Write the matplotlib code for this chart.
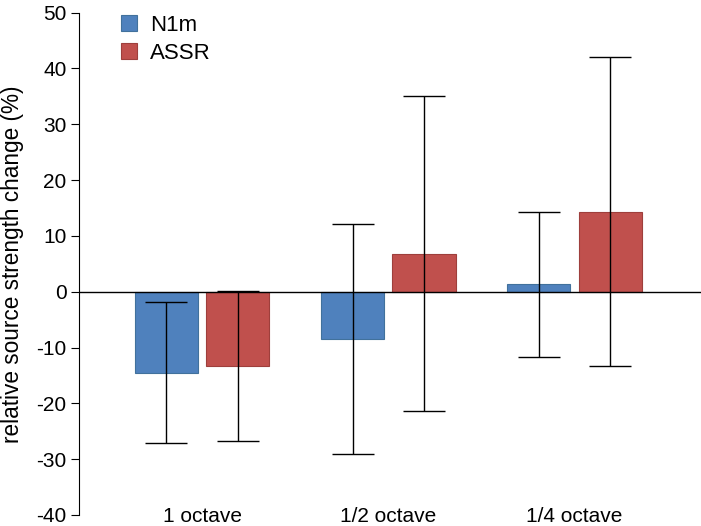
import matplotlib.pyplot as plt
import numpy as np

plt.rcParams['font.family'] = ['Liberation Sans', 'DejaVu Sans']
plt.rcParams['axes.unicode_minus'] = False

categories = ["1 octave", "1/2 octave", "1/4 octave"]
n1m = [-14.5, -8.4, 1.3]
n1m_err = [12.6, 20.6, 13.0]
assr = [-13.3, 6.8, 14.3]
assr_err = [13.5, 28.2, 27.7]

blue = "#4F81BD"
red = "#C0504D"

fig = plt.figure(figsize=(7.01, 5.26), dpi=100)
ax = fig.add_axes([0.113, 0.021, 0.887, 0.955])

x = np.arange(len(categories))
w = 0.34
off = 0.192
ebar = dict(ecolor="black", elinewidth=1, capsize=15, capthick=1)
ax.bar(x - off, n1m, w, color=blue, edgecolor="#41719C", linewidth=0.8,
       yerr=n1m_err, error_kw=ebar, label="N1m", zorder=2)
ax.bar(x + off, assr, w, color=red, edgecolor="#9E3F3C", linewidth=0.8,
       yerr=assr_err, error_kw=ebar, label="ASSR", zorder=2)
ax.axhline(0, color="black", lw=1, zorder=3)

ax.set_xlim(-0.66, 2.68)
ax.set_ylim(-40, 50)
ax.set_yticks(range(-40, 51, 10))
ax.tick_params(axis="y", labelsize=15, length=6, direction="out", pad=3)
ax.set_xticks([])
for s in ["top", "right", "bottom"]:
    ax.spines[s].set_visible(False)
ax.spines["left"].set_linewidth(0.8)

for xi, lab in zip(x, categories):
    ax.text(xi, -41.25, lab, ha="center", va="baseline", fontsize=15)

ax.set_ylabel("relative source strength change (%)", fontsize=16.3, labelpad=9)

ax.legend(loc="upper left", bbox_to_anchor=(0.035, 1.035), frameon=False,
          fontsize=16, handlelength=0.72, handleheight=0.72, handletextpad=0.6,
          labelspacing=0.3)

fig.savefig("out.png", dpi=100)
